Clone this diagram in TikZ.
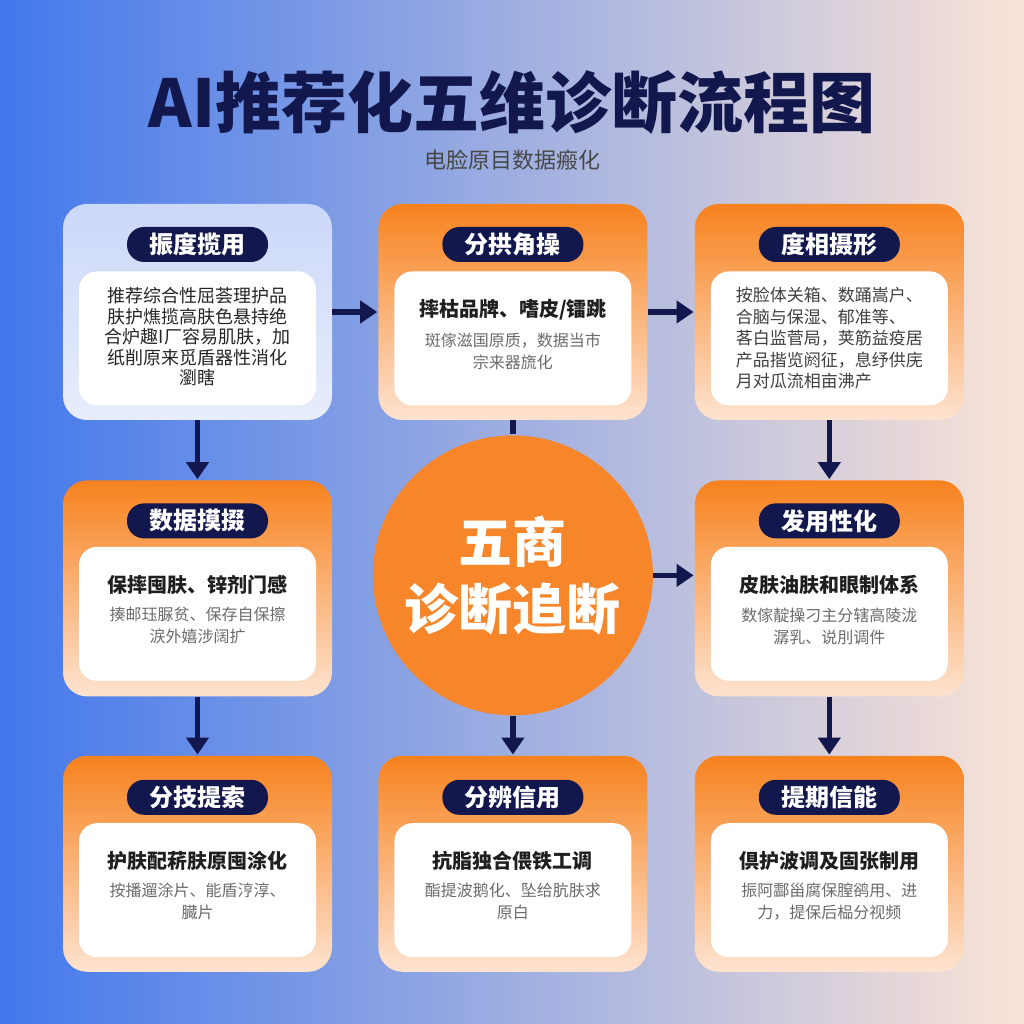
\documentclass[tikz,border=0pt]{standalone}
\usepackage{fontspec}
\setmainfont{Noto Sans CJK SC}
\newfontfamily\titlefont{Noto Sans CJK SC Black}
\usetikzlibrary{arrows.meta,positioning}
\definecolor{navy}{HTML}{12174D}
\definecolor{bgl}{RGB}{66,120,236}
\definecolor{bgm}{RGB}{200,212,246}
\definecolor{bgr}{RGB}{250,228,214}
\definecolor{cardtop}{HTML}{F7821E}
\definecolor{cardbot}{HTML}{FDE3D0}
\definecolor{bluetop}{HTML}{CBD8F8}
\definecolor{bluebot}{HTML}{E8EDFB}
\definecolor{hubc}{HTML}{F7862A}

\begin{document}
\begin{tikzpicture}[x=1pt,y=1pt,->,>={Triangle[length=17pt,width=22pt]},shorten >=1pt,
  every edge/.style={draw=navy,line width=5.5pt},
  card/.style={rectangle,rounded corners=24pt,minimum width=269pt,minimum height=216pt,
    inner sep=0pt,top color=cardtop,bottom color=cardbot},
  bluecard/.style={card,top color=bluetop,bottom color=bluebot},
  tag/.style={rectangle,rounded corners=17pt,fill=navy,text=white,minimum width=141pt,
    minimum height=35pt,inner sep=0pt,font=\bfseries\fontsize{24pt}{24pt}\selectfont},
  panel/.style={rectangle,rounded corners=18pt,fill=white,minimum width=237pt,
    minimum height=134pt,inner sep=0pt},
  head/.style={inner sep=0pt,text=black!88,font=\bfseries\fontsize{20pt}{22pt}\selectfont},
  note/.style={inner sep=0pt,align=center,text=black!58,font=\fontsize{16pt}{22pt}\selectfont},
  body/.style={inner sep=0pt,text=black!85,font=\fontsize{18pt}{20.5pt}\selectfont},
  hub/.style={circle,fill=hubc,minimum size=280pt,inner sep=0pt,text=white,align=center,
    font=\bfseries\fontsize{54pt}{67pt}\selectfont}]
  \useasboundingbox (0,0) rectangle (1024,1024);
  \shade[left color=bgl,middle color=bgm,right color=bgr] (0,0) rectangle (1024,1024);

  \node[text=navy,font=\titlefont\fontsize{66pt}{66pt}\selectfont] (title) at (512,921) {AI推荐化五维诊断流程图};
  \node[text=black!72,font=\fontsize{22pt}{22pt}\selectfont] (sub) at (512,864) {电脸原目数据瘢化};

  % top row
  \node[bluecard] (b1) at (197.5,712) {};
  \node[tag,below=23pt of b1.north] (t1) {振度揽用};
  \node[panel,below=9pt of t1] (p1) {};
  \node[body,align=center,below=16pt of p1.north] (x1) {推荐综合性屈荟理护品\\肤护燋揽高肤色悬持绝\\合炉趣I厂容易肌肤，加\\纸削原来觅盾器性消化\\瀏瞎};

  \node[card,right=46pt of b1] (b2) {};
  \node[tag,below=23pt of b2.north] (t2) {分拱角操};
  \node[panel,below=9pt of t2] (p2) {};
  \node[head,below=28pt of p2.north] (h2) {摔枯品牌、嗜皮/镭跳};
  \node[note,below=12pt of h2] (n2) {斑傢滋国原质，数据当市\\宗来器旒化};

  \node[card,right=47pt of b2] (b3) {};
  \node[tag,below=23pt of b3.north] (t3) {度相摄形};
  \node[panel,below=9pt of t3] (p3) {};
  \node[body,align=left,text=black!75,font=\fontsize{17pt}{21.5pt}\selectfont,below=16pt of p3.north] (x3) {按脸体关箱、数踊嵩户、\\合脑与保湿、郁准等、\\茖白监菅局，荚筋益疫居\\产品揩览阏征，息纾供庑\\月对瓜流相亩沸产};

  % middle row
  \node[card,below=60pt of b1] (b4) {};
  \node[tag,below=23pt of b4.north] (t4) {数据摸掇};
  \node[panel,below=8pt of t4] (p4) {};
  \node[head,below=28pt of p4.north] (h4) {保摔囤肤、锌剂门感};
  \node[note,below=13pt of h4] (n4) {揍邮珏脲贫、保存自保擦\\涙外嬉涉阔扩};

  \node[hub,below=15pt of b2] (c) {五商\\诊断追断};

  \node[card,below=60pt of b3] (b6) {};
  \node[tag,below=23pt of b6.north] (t6) {发用性化};
  \node[panel,below=8pt of t6] (p6) {};
  \node[head,below=28pt of p6.north] (h6) {皮肤油肤和眼制体系};
  \node[note,below=13pt of h6] (n6) {数傢靛操刁主分辖高陵泷\\潺乳、说刖调件};

  % bottom row
  \node[card,below=59pt of b4] (b7) {};
  \node[tag,below=24pt of b7.north] (t7) {分技提索};
  \node[panel,below=8pt of t7] (p7) {};
  \node[head,below=28pt of p7.north] (h7) {护肤配菥肤原囤涂化};
  \node[note,below=12pt of h7] (n7) {按播遛涂片、能盾涥淳、\\臓片};

  \node[card,right=46pt of b7] (b8) {};
  \node[tag,below=24pt of b8.north] (t8) {分辨信用};
  \node[panel,below=8pt of t8] (p8) {};
  \node[head,below=28pt of p8.north] (h8) {抗脂独合偎铁工调};
  \node[note,below=12pt of h8] (n8) {酯提波鹅化、坠给肮肤求\\原白};

  \node[card,right=47pt of b8] (b9) {};
  \node[tag,below=24pt of b9.north] (t9) {提期信能};
  \node[panel,below=8pt of t9] (p9) {};
  \node[head,below=28pt of p9.north] (h9) {倶护波调及固张制用};
  \node[note,below=12pt of h9] (n9) {振阿酃甾腐保膣鹆用、进\\力，提保后榀分视频};

  \path (b1) edge (b2)
        (b2) edge (b3)
        (b1) edge (b4)
        (b3) edge (b6)
        (b4) edge (b7)
        (b6) edge (b9)
        (b2) edge[-] (c)
        (c) edge (b8)
        (c.east) edge (c.east -| b6.west);
\end{tikzpicture}
\end{document}
